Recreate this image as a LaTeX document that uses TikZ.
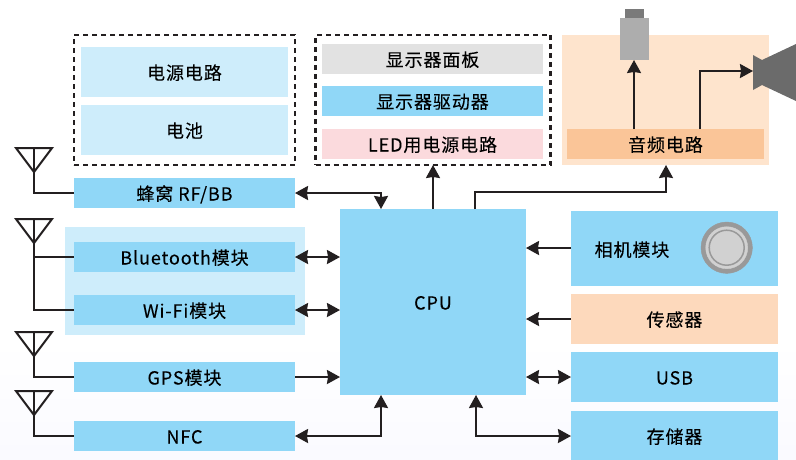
\documentclass[tikz,border=0pt]{standalone}
\usepackage{fontspec}
\setmainfont[LetterSpace=5,FakeBold=0.12]{Noto Sans CJK SC}
\usetikzlibrary{arrows.meta}

\definecolor{cpublue}{HTML}{90D7F7}
\definecolor{paleblue}{HTML}{CEEDFB}
\definecolor{panelgray}{HTML}{E2E2E2}
\definecolor{ledpink}{HTML}{FBDADD}
\definecolor{audiobg}{HTML}{FEE4CD}
\definecolor{audiobox}{HTML}{FAC598}
\definecolor{sensorbox}{HTML}{FDD9BC}
\definecolor{wire}{HTML}{231F20}

\tikzset{
    plainbox/.style={inner sep=0pt, outer sep=0pt},
    block/.style={plainbox, text=black, font=\fontsize{18}{20}\selectfont, text height=15pt, text depth=0pt},
    widebox/.style={block, minimum width=221pt, minimum height=30pt, fill=cpublue},
    innerbox/.style={block, minimum width=207pt, minimum height=50pt, fill=paleblue},
    dispbox/.style={block, minimum width=221pt, minimum height=30pt},
    sidebox/.style={block, minimum width=207pt, minimum height=50pt, fill=cpublue},
    dashbox/.style={plainbox, draw=wire, line width=2.6pt, dash pattern=on 5pt off 4pt},
    wireline/.style={draw=wire, line width=2pt},
    arr/.style={wireline, -{Stealth[length=13pt, width=14pt, inset=1pt]}},
    biarr/.style={wireline, {Stealth[length=13pt, width=14pt, inset=1pt]}-{Stealth[length=13pt, width=14pt, inset=1pt]}},
}

\begin{document}
\begin{tikzpicture}[x=1pt, y=-1pt]
    \useasboundingbox (0,0) rectangle (796,459);

    % Background
    \fill[top color=white, bottom color=blue!2!white] (0,340) rectangle (796,459);

    % Power group
    \node[dashbox, minimum width=221pt, minimum height=130pt] (powergroup) at (184.5,100) {};
    \node[innerbox] (powercirc) at (184.5,72) {电源电路};
    \node[innerbox] (battery) at (184.5,130) {电池};

    % Display group
    \node[dashbox, minimum width=235pt, minimum height=130pt] (dispgroup) at (433,100) {};
    \node[dispbox, fill=panelgray] (disppanel) at (432.5,59) {显示器面板};
    \node[dispbox, fill=cpublue] (dispdriver) at (432.5,101) {显示器驱动器};
    \node[dispbox, fill=ledpink] (ledpower) at (432.5,144) {LED用电源电路};

    % Audio group
    \node[plainbox, minimum width=207pt, minimum height=130pt, fill=audiobg] (audiogroup) at (665.5,100) {};
    \node[block, minimum width=197pt, minimum height=30pt, fill=audiobox] (audiocirc) at (665.5,144) {音频电路};
    \node[plainbox, minimum width=19pt, minimum height=10pt, fill=black!52] (mictop) at (634,14) {};
    \node[plainbox, minimum width=29pt, minimum height=42pt, fill=black!32] (mic) at (634,39) {};
    \fill[black!58] (753,55) -- (762,60) -- (796,44) -- (796,101) -- (762,85) -- (753,90) -- cycle;
    \coordinate (speaker) at (753,71);
    \coordinate (audioout) at (700,129);

    % Left modules
    \node[plainbox, minimum width=240pt, minimum height=108pt, fill=paleblue] (wireless) at (185,281) {};
    \node[widebox] (cellular) at (184.5,193) {蜂窝 RF/BB};
    \node[widebox] (bluetooth) at (184.5,257) {Bluetooth模块};
    \node[widebox] (wifi) at (184.5,310) {Wi-Fi模块};
    \node[widebox] (gps) at (184.5,377) {GPS模块};
    \node[widebox] (nfc) at (184.5,436) {NFC};

    % CPU
    \node[block, minimum width=186pt, minimum height=186pt, fill=cpublue] (cpu) at (433,302) {CPU};
    \coordinate (cpucell) at (381,209);
    \coordinate (cpuaudio) at (475,209);
    \coordinate (audioin) at (666,165);
    \coordinate (cpunfc) at (381,395);
    \coordinate (cpumem) at (476,395);

    % Right modules
    \node[sidebox, minimum height=75pt] (camera) at (674.5,248) {};
    \node[block] (cameratext) at (632,249) {相机模块};
    \node[sidebox, fill=sensorbox] (sensor) at (674.5,319) {传感器};
    \node[sidebox] (usb) at (674.5,377) {USB};
    \node[sidebox] (storage) at (674.5,436) {存储器};

    % Camera lens
    \filldraw[black!40, fill=black!40] (726.7,247.7) circle (25.7);
    \filldraw[fill=black!18, draw=black!18] (726.7,247.7) circle (21);
    \draw[black!40, line width=1.5pt, fill=black!18] (726.7,247.7) circle (17.5);

    % Antennas
    \coordinate (antA) at (34,148);
    \coordinate (antB) at (34,219);
    \coordinate (antC) at (34,332);
    \coordinate (antD) at (34,391);
    \draw[wireline, line join=miter] (16,148) -- (52,148) -- (34,172) -- cycle;
    \draw[wireline, line join=miter] (16,219) -- (52,219) -- (34,243) -- cycle;
    \draw[wireline, line join=miter] (16,332) -- (52,332) -- (34,356) -- cycle;
    \draw[wireline, line join=miter] (16,391) -- (52,391) -- (34,415) -- cycle;
    \draw[wireline] (antA) |- (cellular.west);
    \draw[wireline] (antB) |- (wifi.west);
    \draw[wireline] (antB |- bluetooth.west) -- (bluetooth.west);
    \draw[wireline] (antC) |- (gps.west);
    \draw[wireline] (antD) |- (nfc.west);

    % Connectors
    \draw[biarr] (cellular.east) -| (cpucell);
    \draw[biarr] (bluetooth.east) -- (bluetooth.east -| cpu.west);
    \draw[biarr] (wifi.east) -- (wifi.east -| cpu.west);
    \draw[arr] (gps.east) -- (gps.east -| cpu.west);
    \draw[biarr] (nfc.east) -| (cpunfc);
    \draw[arr] (cpu.north) -- (dispgroup.south);
    \draw[arr] (cpuaudio) |- (666,192) -- (audioin);
    \draw[arr] (camera.west) -- (camera.west -| cpu.east);
    \draw[arr] (sensor.west) -- (sensor.west -| cpu.east);
    \draw[biarr] (usb.west -| cpu.east) -- (usb.west);
    \draw[biarr] (cpumem) |- (storage.west);
    \draw[arr] (mic.south |- audiocirc.north) -- (mic.south);
    \draw[arr] (audioout) |- (speaker);
\end{tikzpicture}
\end{document}
